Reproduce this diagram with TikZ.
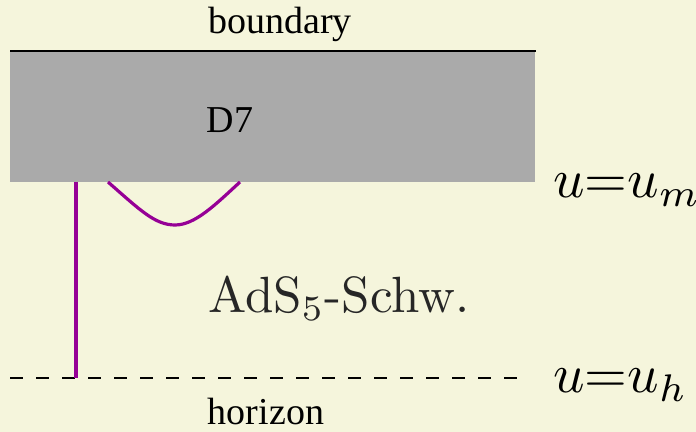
\documentclass[tikz,border=0pt]{standalone}
\usepackage{fontspec}
\usepackage{graphicx}
\newfontfamily\timesfont{Liberation Serif}
\usetikzlibrary{positioning}
\definecolor{bgbeige}{RGB}{245,245,220}
\definecolor{stringpurple}{RGB}{150,0,150}
\definecolor{branegray}{RGB}{170,170,170}
\newcommand{\bigcm}[2]{\scalebox{#1}{#2}}

\begin{document}
\begin{tikzpicture}[x=0.5pt, y=-0.5pt,
    labeltext/.style={font=\timesfont\fontsize{19}{22}\selectfont, inner sep=0pt, anchor=base},
    bulktext/.style={text=black!85, inner sep=0pt, anchor=base west},
    mathlabel/.style={inner sep=0pt, anchor=base west},
    branebox/.style={fill=branegray, inner sep=0pt, minimum width=262.5pt, minimum height=65.5pt, anchor=north west},
    strline/.style={stringpurple, line width=1.6pt},
    horizonline/.style={dash pattern=on 6.5pt off 6.5pt, line width=0.7pt}
  ]
    \fill[bgbeige] (0,0) rectangle (696,432);
    \useasboundingbox (0,0) rectangle (696,432);

    \node[branebox] (brane) at (10,51) {};
    \draw[line width=1pt] (brane.north west) -- (brane.north east);
    \node[labeltext] (bdlabel) at (280,34) {boundary};
    \node[labeltext] (d7) at (230,133) {D7};

    \coordinate (hleft) at (10,378);
    \coordinate (hright) at (522,378);
    \draw[horizonline] (hleft) -- (hright);
    \node[labeltext] (hzlabel) at (266,425) {horizon};

    % strings hanging from the brane
    \coordinate (strtop) at (76,182);
    \coordinate (strfoot) at (76,378);
    \draw[strline] (strtop) -- (strfoot);
    \coordinate (loopa) at (108,182);
    \coordinate (loopmid) at (175,225);
    \coordinate (loopb) at (240,182);
    \draw[strline] (loopa) .. controls (140,210) and (155,225) .. (loopmid)
      .. controls (195,225) and (215,205) .. (loopb);

    \node[bulktext] (bulk) at (208,313) {\bigcm{2.55}{AdS$_5$-Schw.}};
    \node[mathlabel] (umlabel) at (553,198) {\bigcm{2.75}{$u{=}u_m$}};
    \node[mathlabel] (uhlabel) at (553,393) {\bigcm{2.75}{$u{=}u_h$}};
  \end{tikzpicture}
\end{document}
